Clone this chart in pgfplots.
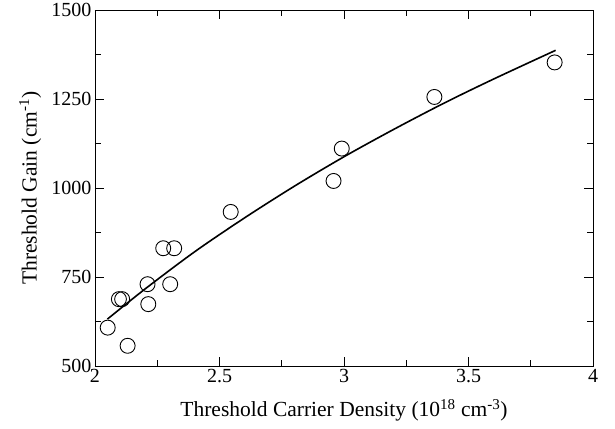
\documentclass[border=0pt]{standalone}
\usepackage{fontspec}
\setmainfont{Liberation Serif}
\usepackage{pgfplots}
\pgfplotsset{compat=1.18}

\begin{document}
\begin{tikzpicture}
\begin{axis}[
  scale only axis, width=498pt, height=356pt,
  xmin=2, xmax=4, ymin=500, ymax=1500,
  xtick={2,2.5,3,3.5,4}, ytick={500,750,1000,1250,1500},
  minor x tick num=1, minor y tick num=1,
  tick align=inside,
  major tick length=9pt, minor tick length=6pt,
  axis line style={line width=0.7pt}, tick style={line width=0.7pt, black},
  xticklabel style={/pgf/number format/fixed},
  yticklabel style={/pgf/number format/fixed, /pgf/number format/1000 sep={}},
  /pgf/number format/assume math mode=true,
  ticklabel style={font=\fontsize{20}{24}\selectfont},
  label style={font=\fontsize{21.5}{26}\selectfont},
  xlabel={Threshold Carrier Density (10\textsuperscript{18} cm\textsuperscript{-3})},
  ylabel={Threshold Gain (cm\textsuperscript{-1})},
  xlabel style={at={(axis description cs:0.5,-0.124)}, anchor=center},
  ylabel style={at={(axis description cs:-0.13,0.5)}, anchor=center},
]
% fitted gain curve
\addplot[black, line width=1.6pt, smooth] coordinates {
  (2.05,632) (2.2,716) (2.4,821) (2.6,916) (2.8,1005) (3.0,1088)
  (3.2,1165) (3.4,1238) (3.6,1306) (3.85,1387)};
% measured points
\addplot[only marks, mark=o, mark size=7.5pt, mark options={line width=0.9pt}, black] coordinates {
  (2.051,608) (2.131,557) (2.096,688) (2.109,688) (2.211,730) (2.214,674)
  (2.274,831) (2.318,831) (2.302,730) (2.545,933) (2.958,1020)
  (2.991,1111) (3.363,1256) (3.846,1353)};
\end{axis}
\path (0,0) ++(-95pt,-62pt) rectangle ++(615pt,428pt);
\end{tikzpicture}
\end{document}
